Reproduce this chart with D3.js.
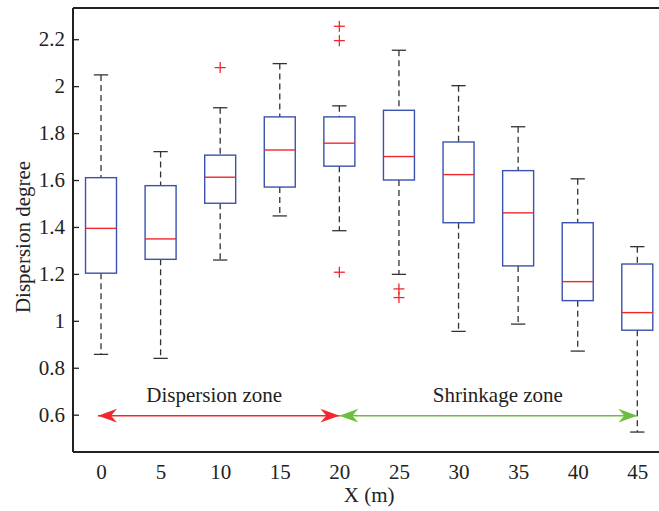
<!DOCTYPE html>
<html>
<head>
<meta charset="utf-8">
<script src="https://cdn.jsdelivr.net/npm/d3@7"></script>
<style>
  html, body { margin: 0; padding: 0; background: #fff; }
</style>
</head>
<body>
<svg id="chart" width="659" height="511"></svg>
<script>
// distance from the origin, one box per position
const positions = [0, 5, 10, 15, 20, 25, 30, 35, 40, 45];
const whiskerHigh = [2.048, 1.721, 1.908, 2.096, 1.916, 2.153, 2.002, 1.827, 1.605, 1.316];
const q3 = [1.610, 1.576, 1.706, 1.869, 1.869, 1.897, 1.762, 1.640, 1.418, 1.242];
const medians = [1.394, 1.349, 1.612, 1.728, 1.757, 1.700, 1.623, 1.460, 1.167, 1.035];
const q1 = [1.203, 1.262, 1.501, 1.570, 1.659, 1.600, 1.418, 1.234, 1.086, 0.960];
const whiskerLow = [0.857, 0.840, 1.259, 1.447, 1.384, 1.198, 0.955, 0.986, 0.871, 0.526];

const outlierX = [10, 20, 20, 20, 25, 25];
const outlierY = [2.079, 2.255, 2.194, 1.207, 1.136, 1.099];

const yTicks = [0.6, 0.8, 1, 1.2, 1.4, 1.6, 1.8, 2, 2.2];

// zone arrows
const zoneLabels = ['Dispersion zone', 'Shrinkage zone'];
const zoneFrom = [-0.25, 20];
const zoneTo = [20, 45];
const zoneLabelX = [9.5, 33.3];
const zoneY = 0.596;

const FONT = '"Liberation Serif", "Times New Roman", "DejaVu Serif", serif';

const svg = d3.select('#chart');

const margin = { left: 73, top: 8, bottom: 452 };
const x = d3.scaleLinear().domain([-2.35, 46.82]).range([margin.left, 659]);
const y = d3.scaleLinear().domain([0.441, 2.333]).range([margin.bottom, margin.top]);

const boxW = 2.6; // in x units
const capW = 1.2;

const blue = '#3a51ad';
const red = '#f0282d';
const green = '#6cbe3f';
const dark = '#222';

const boxes = positions.map((p, i) => ({
  p, hi: whiskerHigh[i], q3: q3[i], med: medians[i], q1: q1[i], lo: whiskerLow[i]
}));

const g = svg.append('g');

// whiskers
const wg = g.append('g').attr('stroke', '#333').attr('stroke-width', 1.3).attr('fill', 'none');
boxes.forEach(b => {
  wg.append('line')
    .attr('x1', x(b.p)).attr('x2', x(b.p))
    .attr('y1', y(b.hi)).attr('y2', y(b.q3))
    .attr('stroke-dasharray', '6,4');
  wg.append('line')
    .attr('x1', x(b.p)).attr('x2', x(b.p))
    .attr('y1', y(b.q1)).attr('y2', y(b.lo))
    .attr('stroke-dasharray', '6,4');
  [b.hi, b.lo].forEach(v => {
    wg.append('line')
      .attr('x1', x(b.p - capW / 2)).attr('x2', x(b.p + capW / 2))
      .attr('y1', y(v)).attr('y2', y(v));
  });
});

// boxes
g.append('g')
  .selectAll('rect')
  .data(boxes)
  .enter()
  .append('rect')
  .attr('x', d => x(d.p - boxW / 2))
  .attr('width', x(boxW) - x(0))
  .attr('y', d => y(d.q3))
  .attr('height', d => y(d.q1) - y(d.q3))
  .attr('fill', 'none')
  .attr('stroke', blue)
  .attr('stroke-width', 1.4);

// medians
g.append('g')
  .selectAll('line')
  .data(boxes)
  .enter()
  .append('line')
  .attr('x1', d => x(d.p - boxW / 2))
  .attr('x2', d => x(d.p + boxW / 2))
  .attr('y1', d => y(d.med))
  .attr('y2', d => y(d.med))
  .attr('stroke', red)
  .attr('stroke-width', 1.4);

// outliers as '+'
const og = g.append('g').attr('stroke', red).attr('stroke-width', 1.3);
outlierX.forEach((p, i) => {
  const cx = x(p), cy = y(outlierY[i]);
  og.append('line').attr('x1', cx - 5.5).attr('x2', cx + 5.5).attr('y1', cy).attr('y2', cy);
  og.append('line').attr('x1', cx).attr('x2', cx).attr('y1', cy - 5.5).attr('y2', cy + 5.5);
});

// arrow heads
const defs = svg.append('defs');
[['arrowRed', red], ['arrowGreen', green]].forEach(([id, c]) => {
  defs.append('marker')
    .attr('id', id)
    .attr('markerUnits', 'userSpaceOnUse')
    .attr('viewBox', '-20 -8 21 16')
    .attr('markerWidth', 21)
    .attr('markerHeight', 16)
    .attr('refX', 0)
    .attr('refY', 0)
    .attr('orient', 'auto-start-reverse')
    .append('path')
    .attr('d', 'M0,0 L-19,-6.8 L-13,0 L-19,6.8 Z')
    .attr('fill', c);
});

const arrowColors = [red, green];
const arrowIds = ['arrowRed', 'arrowGreen'];
zoneLabels.forEach((lab, i) => {
  g.append('line')
    .attr('x1', x(zoneFrom[i])).attr('x2', x(zoneTo[i]))
    .attr('y1', y(zoneY)).attr('y2', y(zoneY))
    .attr('stroke', arrowColors[i])
    .attr('stroke-width', 1.5)
    .attr('marker-start', `url(#${arrowIds[i]})`)
    .attr('marker-end', `url(#${arrowIds[i]})`);
  g.append('text')
    .attr('x', x(zoneLabelX[i]))
    .attr('y', y(zoneY) - 14)
    .attr('text-anchor', 'middle')
    .style('font-family', FONT)
    .style('font-size', '21px')
    .style('fill', dark)
    .text(lab);
});

// axes frame
const yAxis = d3.axisLeft(y)
  .tickValues(yTicks)
  .tickSize(-6)
  .tickPadding(8)
  .tickFormat(d => String(+d.toFixed(1)));

const ya = svg.append('g')
  .attr('transform', `translate(${margin.left},0)`)
  .call(yAxis)
  .attr('font-family', null)
  .attr('font-size', null);
ya.select('.domain').remove();
ya.selectAll('.tick line').attr('stroke', dark).attr('stroke-width', 1.3);
ya.selectAll('.tick text')
  .style('font-family', FONT)
  .style('font-size', '21px')
  .style('fill', dark);

const xAxis = d3.axisBottom(x)
  .tickValues(positions)
  .tickSize(0)
  .tickPadding(12)
  .tickFormat(d3.format('d'));

const xa = svg.append('g')
  .attr('transform', `translate(0,${margin.bottom})`)
  .call(xAxis)
  .attr('font-family', null)
  .attr('font-size', null);
xa.select('.domain').remove();
xa.selectAll('.tick text')
  .style('font-family', FONT)
  .style('font-size', '21px')
  .style('fill', dark);

const frame = svg.append('g').attr('stroke', dark).attr('stroke-width', 2).attr('fill', 'none');
frame.append('line').attr('x1', margin.left).attr('x2', 659).attr('y1', margin.top).attr('y2', margin.top);
frame.append('line').attr('x1', margin.left).attr('x2', 659).attr('y1', margin.bottom).attr('y2', margin.bottom);
frame.append('line').attr('x1', margin.left).attr('x2', margin.left).attr('y1', margin.top).attr('y2', margin.bottom);

// axis titles
svg.append('text')
  .attr('transform', `translate(30,${(margin.top + margin.bottom) / 2 + 7}) rotate(-90)`)
  .attr('text-anchor', 'middle')
  .style('font-family', FONT)
  .style('font-size', '21px')
  .style('fill', dark)
  .text('Dispersion degree');

svg.append('text')
  .attr('x', x(22.5))
  .attr('y', 502)
  .attr('text-anchor', 'middle')
  .style('font-family', FONT)
  .style('font-size', '21px')
  .style('fill', dark)
  .text('X (m)');
</script>
</body>
</html>
